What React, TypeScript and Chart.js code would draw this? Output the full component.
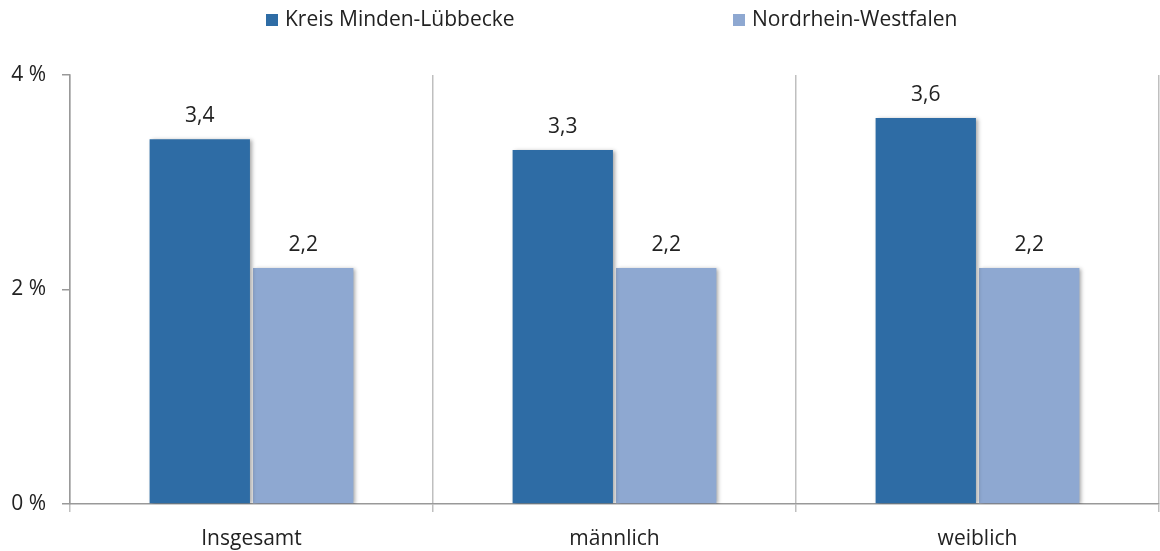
import React, { useEffect, useRef } from "react";
import { Chart, registerables } from "chart.js";

Chart.register(...registerables);

const categories = ["Insgesamt", "männlich", "weiblich"];
const seriesNames = ["Kreis Minden-Lübbecke", "Nordrhein-Westfalen"];
const kreisValues = [3.4, 3.3, 3.6];
const nrwValues = [2.2, 2.2, 2.2];
const yTicks = [0, 2, 4];
const colors = ["#2E6CA5", "#8EA8D1"];

const FONT = "'Open Sans', 'DejaVu Sans', sans-serif";
const FS = 21;

const fmt = (v: number) => v.toFixed(1).replace(".", ",");

const shadowPlugin = {
  id: "barShadow",
  beforeDatasetsDraw(chart: any) {
    const ctx = chart.ctx;
    ctx.save();
    ctx.shadowColor = "rgba(0,0,0,0.35)";
    ctx.shadowBlur = 4;
    ctx.shadowOffsetX = 2;
    ctx.shadowOffsetY = 1;
  },
  afterDatasetsDraw(chart: any) {
    chart.ctx.restore();
  },
};

const labelPlugin = {
  id: "valueLabels",
  afterDatasetsDraw(chart: any) {
    const ctx = chart.ctx;
    ctx.save();
    ctx.font = `${FS}px ${FONT}`;
    ctx.fillStyle = "#222";
    ctx.textAlign = "center";
    ctx.textBaseline = "middle";
    chart.data.datasets.forEach((ds: any, i: number) => {
      const meta = chart.getDatasetMeta(i);
      meta.data.forEach((bar: any, j: number) => {
        ctx.fillText(fmt(ds.data[j]), bar.x, bar.y - 23);
      });
    });
    ctx.restore();
  },
};

const legendPlugin = {
  id: "customLegend",
  afterDraw(chart: any) {
    const ctx = chart.ctx;
    ctx.save();
    ctx.font = `${FS}px ${FONT}`;
    ctx.textBaseline = "middle";
    ctx.textAlign = "left";
    const starts = [266, 733];
    seriesNames.forEach((name, i) => {
      const x = starts[i];
      ctx.fillStyle = colors[i];
      ctx.fillRect(x, 14, 12, 12);
      ctx.fillStyle = "#222";
      ctx.fillText(name, x + 19, 20);
    });
    ctx.restore();
  },
};

export default function App() {
  const ref = useRef<HTMLCanvasElement | null>(null);

  useEffect(() => {
    document.body.style.margin = "0";
    if (!ref.current) return;
    const chart = new Chart(ref.current, {
      type: "bar",
      data: {
        labels: categories,
        datasets: [
          {
            label: seriesNames[0],
            data: kreisValues,
            backgroundColor: colors[0],
            barPercentage: 0.97,
            categoryPercentage: 0.57,
          },
          {
            label: seriesNames[1],
            data: nrwValues,
            backgroundColor: colors[1],
            barPercentage: 0.97,
            categoryPercentage: 0.57,
          },
        ],
      },
      options: {
        responsive: false,
        animation: false,
        layout: { padding: { top: 75, right: 1, left: 0, bottom: 0 } },
        plugins: {
          legend: { display: false },
          tooltip: { enabled: false },
        },
        scales: {
          x: {
            grid: {
              color: "#BFBFBF",
              lineWidth: 1.5,
              drawOnChartArea: true,
              drawTicks: true,
              tickLength: 8,
              offset: true,
            },
            border: { color: "#999999", width: 1.5 },
            ticks: {
              color: "#222",
              font: { family: FONT, size: FS },
              padding: 14,
            },
            afterFit: (scale: any) => {
              scale.height = 47;
            },
          },
          y: {
            min: 0,
            max: 4,
            afterBuildTicks: (scale: any) => {
              scale.ticks = yTicks.map((v) => ({ value: v }));
            },
            grid: {
              color: "#999999",
              lineWidth: 1.5,
              drawOnChartArea: false,
              drawTicks: true,
              tickLength: 8,
            },
            border: { color: "#999999", width: 1.5 },
            ticks: {
              color: "#222",
              font: { family: FONT, size: FS },
              padding: 16,
              callback: (v: any) => `${v} %`,
            },
            afterFit: (scale: any) => {
              scale.width = 70;
            },
          },
        },
      },
      plugins: [shadowPlugin, labelPlugin, legendPlugin],
    });
    return () => chart.destroy();
  }, []);

  return (
    <div style={{ width: 1160, height: 551, background: "#fff" }}>
      <canvas ref={ref} width={1160} height={551} style={{ display: "block" }} />
    </div>
  );
}
